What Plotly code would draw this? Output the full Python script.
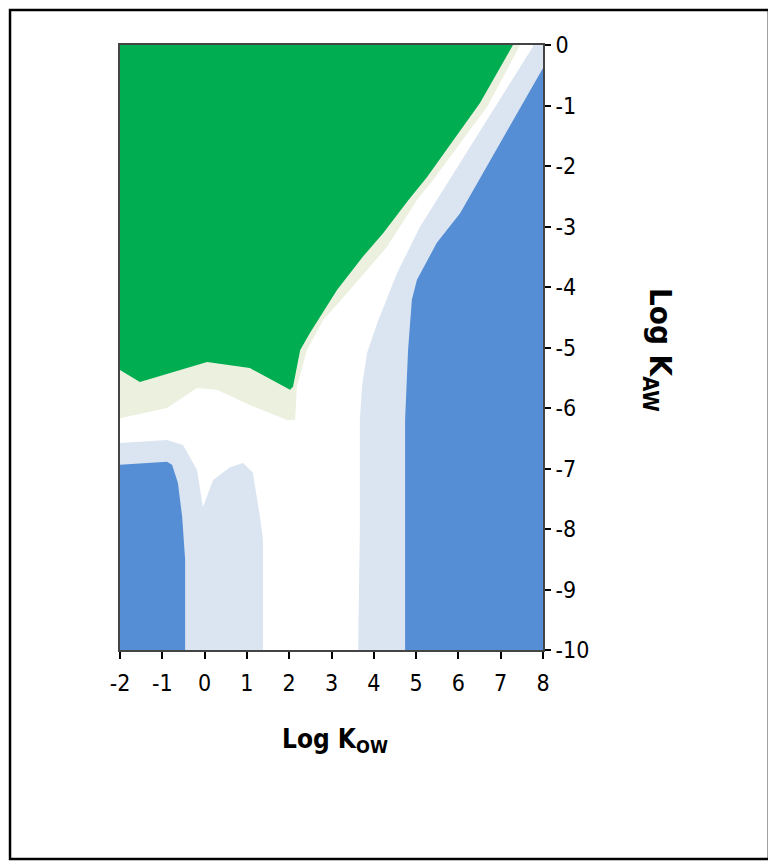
import plotly.graph_objects as go

FONT = "DejaVu Sans Condensed, Liberation Sans Narrow, Liberation Sans, sans-serif"
TITLE_FONT = "Liberation Sans Narrow, DejaVu Sans Condensed, Liberation Sans, sans-serif"

GREEN = "#00ad50"
PALE_GREEN = "#ebf0df"
LIGHT_BLUE = "#dbe5f1"
DARK_BLUE = "#558ed5"

# region outlines in data units (log Kow, log Kaw)
pale_green_x = [-2, 7.46, 6.68, 5.40, 5.02, 4.31, 3.37, 2.80, 2.42, 2.18, 2.14,
                1.95, 1.07, 0.29, -0.18, -0.89, -2]
pale_green_y = [0, 0, -1.02, -2.23, -2.56, -3.34, -4.10, -4.55, -5.04, -5.65, -6.20,
                -6.20, -5.95, -5.70, -5.67, -6.00, -6.17]

green_x = [-2, 7.29, 6.51, 5.26, 4.82, 4.22, 3.74, 3.13, 2.49, 2.26, 2.09,
           2.02, 1.07, 0.06, -0.18, -1.53, -2]
green_y = [0, 0, -0.96, -2.18, -2.56, -3.11, -3.50, -4.05, -4.76, -5.04, -5.65,
           -5.70, -5.34, -5.24, -5.29, -5.57, -5.37]

lb_left_x = [-2, -0.89, -0.51, -0.18, -0.04, 0.20, 0.60, 0.91, 1.14, 1.31, 1.38, 1.38, -2]
lb_left_y = [-6.58, -6.53, -6.61, -7.02, -7.64, -7.19, -6.98, -6.91, -7.07, -7.80,
             -8.18, -10, -10]

db_left_x = [-2, -0.89, -0.77, -0.63, -0.53, -0.46, -0.46, -2]
db_left_y = [-6.94, -6.89, -6.94, -7.24, -7.80, -8.51, -10, -10]

lb_right_x = [3.63, 3.67, 3.67, 3.72, 3.84, 4.08, 4.55, 5.09, 5.49, 7.76, 7.76, 8, 8]
lb_right_y = [-10, -8.02, -6.20, -5.65, -5.09, -4.60, -3.77, -3.01, -2.56, -0.03,
              0, 0, -10]

db_right_x = [4.74, 4.74, 4.81, 4.90, 5.02, 5.49, 6.04, 7.93, 8, 8]
db_right_y = [-10, -6.20, -5.04, -4.21, -3.88, -3.27, -2.78, -0.46, -0.38, -10]

x_ticks = list(range(-2, 9))
x_labels = [str(v) for v in x_ticks]
y_ticks = list(range(-10, 1))
y_labels = [str(v) for v in y_ticks]

regions = [
    (pale_green_x, pale_green_y, PALE_GREEN),
    (green_x, green_y, GREEN),
    (lb_left_x, lb_left_y, LIGHT_BLUE),
    (db_left_x, db_left_y, DARK_BLUE),
    (lb_right_x, lb_right_y, LIGHT_BLUE),
    (db_right_x, db_right_y, DARK_BLUE),
]

fig = go.Figure()
for xs, ys, color in regions:
    fig.add_trace(go.Scatter(x=xs, y=ys, mode="lines", fill="toself",
                             fillcolor=color, line=dict(width=0, color=color),
                             hoverinfo="skip", showlegend=False))

axis_common = dict(showgrid=False, zeroline=False, showline=True, mirror=True,
                   linecolor="#444", linewidth=2, ticks="outside",
                   tickcolor="black", tickwidth=2,
                   tickfont=dict(family=FONT, size=23, color="black"))

# page body has an 8px margin, so the figure is pulled in by 8px
fig.update_layout(
    width=764, height=854,
    margin=dict(l=112, r=229, t=37, b=212),
    paper_bgcolor="white", plot_bgcolor="white",
    xaxis=dict(range=[-2, 8], tickvals=x_ticks, ticktext=x_labels, ticklen=7,
               ticklabelstandoff=4, **axis_common),
    yaxis=dict(range=[-10, 0], tickvals=y_ticks, ticktext=y_labels, side="right",
               ticklen=6, **axis_common),
    shapes=[dict(type="rect", xref="paper", yref="paper",
                 x0=-0.260, x1=1.534, y0=-0.3455, y1=1.058,
                 line=dict(color="black", width=2.5))],
    annotations=[
        dict(text="<b>Log K<sub>OW</sub></b>", xref="paper", yref="paper",
             x=0.508, y=-0.180, showarrow=False,
             font=dict(family=TITLE_FONT, size=26, color="black")),
        dict(text="<b>Log K<sub>AW</sub></b>", xref="paper", yref="paper",
             x=1.325, y=0.496, showarrow=False, textangle=90,
             font=dict(family=TITLE_FONT, size=31, color="black")),
    ],
)

fig.write_html("out.html")
